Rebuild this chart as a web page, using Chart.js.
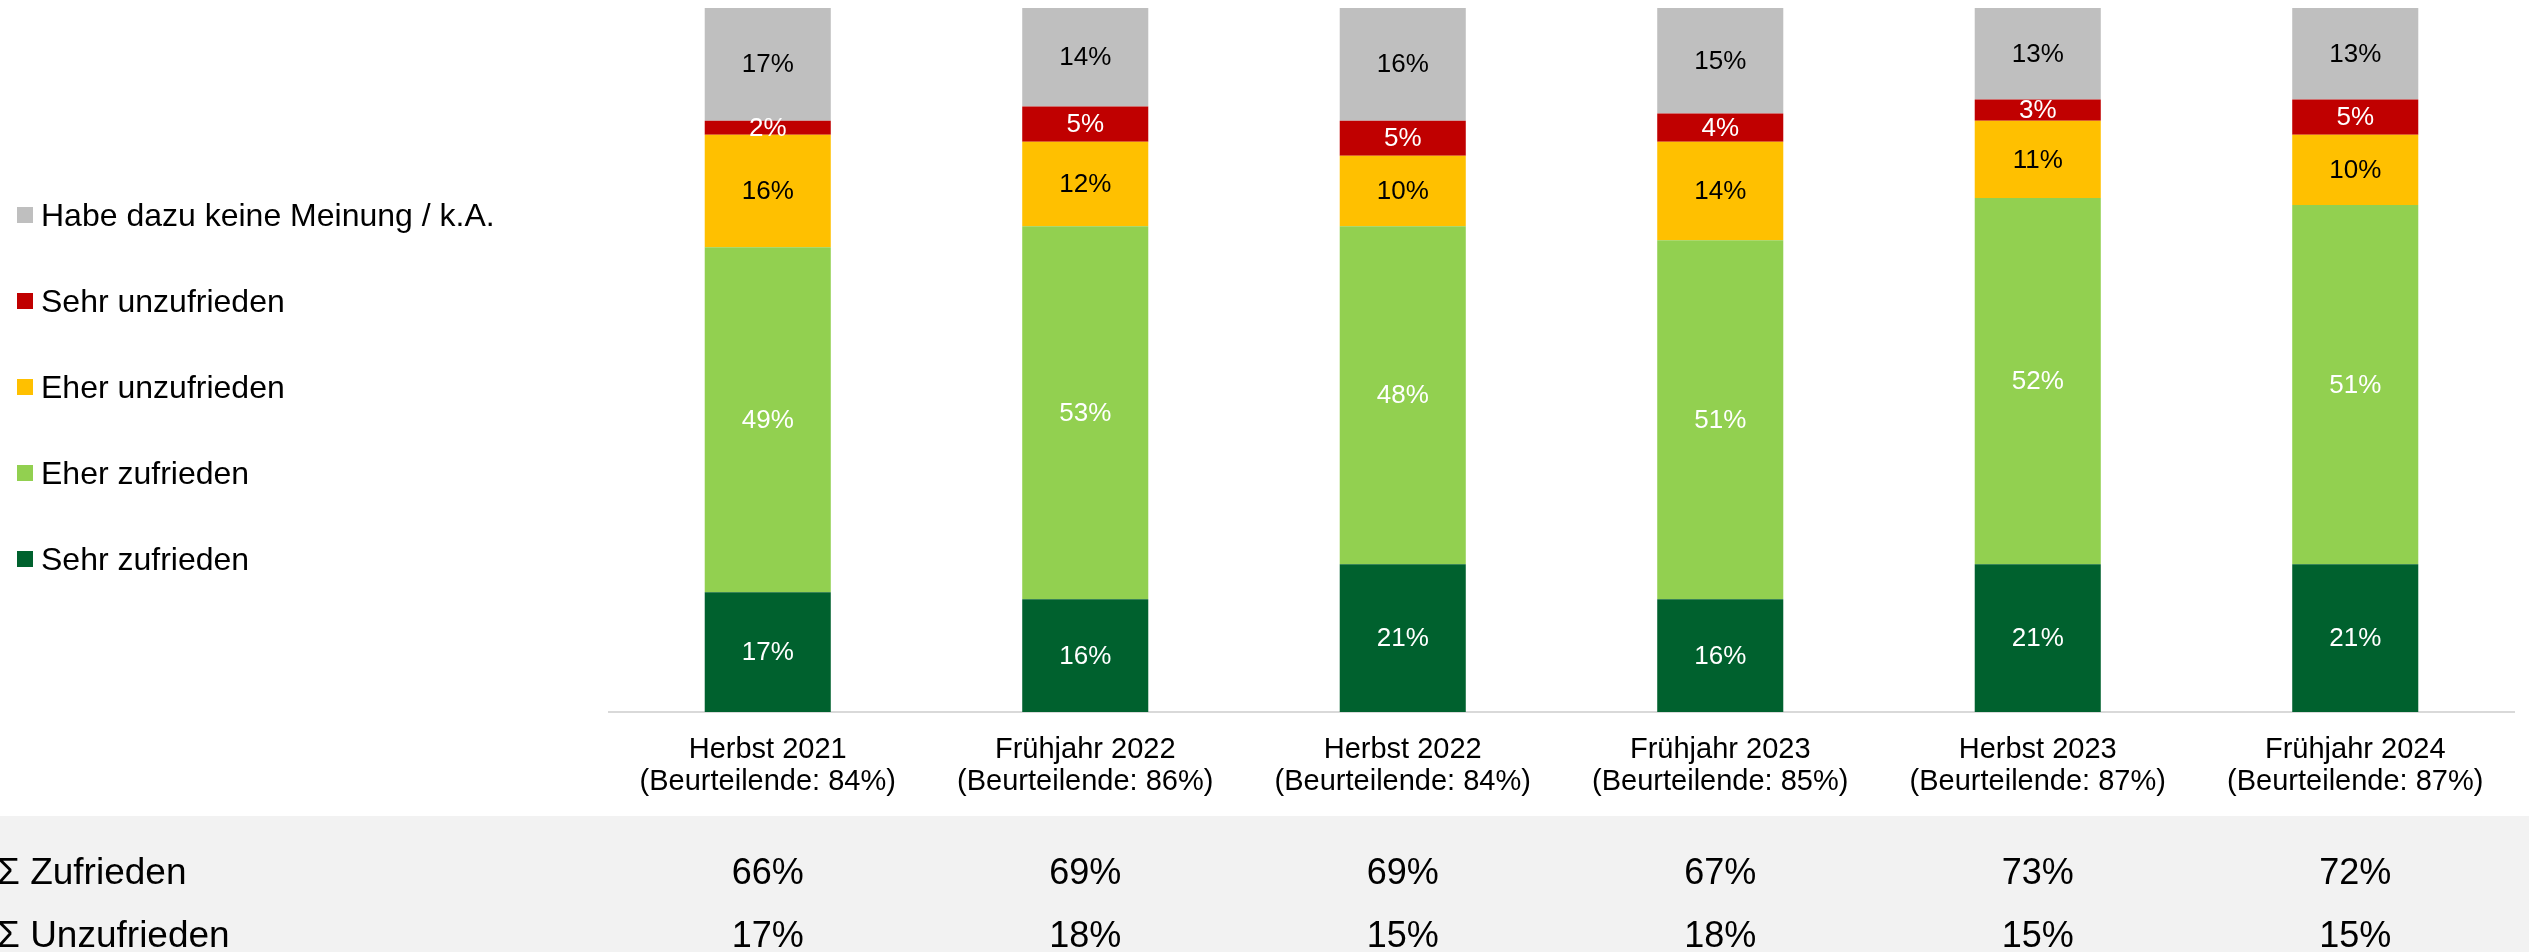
<!DOCTYPE html>
<html>
<head>
<meta charset="utf-8">
<script src="https://cdn.jsdelivr.net/npm/chart.js@4.4.1/dist/chart.umd.min.js"></script>
<style>
  html, body { margin:0; padding:0; background:#fff; }
  #wrap { position:relative; width:2529px; height:952px; overflow:hidden; font-family:"Liberation Sans", Arial, sans-serif; color:#000; }
  #chartBox { position:absolute; left:0; top:0; width:2529px; height:952px; }
  #tableBg { position:absolute; left:0; top:816px; width:2529px; height:136px; background:#F2F2F2; }
  .legend-item { position:absolute; left:17px; height:40px; display:flex; align-items:center; font-size:32px; white-space:nowrap; }
  .legend-item .sw { width:16px; height:16px; margin-right:8px; flex:none; }
  .row-label { position:absolute; left:-3px; font-size:37px; line-height:40px; white-space:nowrap; }
  .cell { position:absolute; font-size:36px; line-height:40px; transform:translateX(-50%); white-space:nowrap; }
</style>
</head>
<body>
<div id="wrap">
  <div id="tableBg"></div>
  <div id="chartBox"><canvas id="c"></canvas></div>
  <div id="legend"></div>
  <div id="table"></div>
</div>
<script>
// ---- data ----
const periods = ['Herbst 2021', 'Frühjahr 2022', 'Herbst 2022', 'Frühjahr 2023', 'Herbst 2023', 'Frühjahr 2024'];
const beurteilende = ['84%', '86%', '84%', '85%', '87%', '87%'];

const sehrZufrieden   = [17, 16, 21, 16, 21, 21];
const eherZufrieden   = [49, 53, 48, 51, 52, 51];
const eherUnzufrieden = [16, 12, 10, 14, 11, 10];
const sehrUnzufrieden = [2, 5, 5, 4, 3, 5];
const keineMeinung    = [17, 14, 16, 15, 13, 13];

const sumZufrieden   = ['66%', '69%', '69%', '67%', '73%', '72%'];
const sumUnzufrieden = ['17%', '18%', '15%', '18%', '15%', '15%'];

const seriesNames = ['Sehr zufrieden', 'Eher zufrieden', 'Eher unzufrieden', 'Sehr unzufrieden', 'Habe dazu keine Meinung / k.A.'];
const seriesColors = ['#00612E', '#92D050', '#FFC000', '#C00000', '#BFBFBF'];
const labelColors  = ['#FFFFFF', '#FFFFFF', '#000000', '#FFFFFF', '#000000'];
const seriesData = [sehrZufrieden, eherZufrieden, eherUnzufrieden, sehrUnzufrieden, keineMeinung];

const FONT = '"Liberation Sans", Arial, sans-serif';

// ---- legend (HTML) ----
const legend = document.getElementById('legend');
const legendCenters = [215, 301, 387, 473, 559];
const legendOrder = [4, 3, 2, 1, 0];
legendOrder.forEach((si, k) => {
  const d = document.createElement('div');
  d.className = 'legend-item';
  d.style.top = (legendCenters[k] - 20) + 'px';
  d.innerHTML = '<span class="sw" style="background:' + seriesColors[si] + '"></span><span>' + seriesNames[si] + '</span>';
  legend.appendChild(d);
});

// ---- bar value labels plugin ----
const valueLabels = {
  id: 'valueLabels',
  afterDatasetsDraw(chart) {
    const ctx = chart.ctx;
    const area = chart.chartArea;
    ctx.save();
    ctx.font = '26px ' + FONT;
    ctx.textAlign = 'center';
    ctx.textBaseline = 'middle';
    chart.data.datasets.forEach((ds, di) => {
      const meta = chart.getDatasetMeta(di);
      meta.data.forEach((el, i) => {
        const p = el.getProps(['x', 'y', 'base'], true);
        const top = Math.max(Math.min(p.y, p.base), area.top);
        const bot = Math.max(p.y, p.base);
        ctx.fillStyle = labelColors[di];
        ctx.fillText(Math.round(ds.data[i]) + '%', p.x, (top + bot) / 2 + 1);
      });
    });
    ctx.restore();
  }
};

// ---- table positioned on x scale ----
const tablePlugin = {
  id: 'tablePlugin',
  afterRender(chart) {
    const tbl = document.getElementById('table');
    if (tbl.dataset.done) return;
    tbl.dataset.done = '1';
    const rows = [['Σ Zufrieden', sumZufrieden, 872], ['Σ Unzufrieden', sumUnzufrieden, 935]];
    rows.forEach(([lab, vals, cy]) => {
      const l = document.createElement('div');
      l.className = 'row-label';
      l.style.top = (cy - 20) + 'px';
      l.textContent = lab;
      tbl.appendChild(l);
      vals.forEach((v, i) => {
        const c = document.createElement('div');
        c.className = 'cell';
        c.style.left = chart.scales.x.getPixelForValue(i) + 'px';
        c.style.top = (cy - 20) + 'px';
        c.textContent = v;
        tbl.appendChild(c);
      });
    });
  }
};

new Chart(document.getElementById('c'), {
  type: 'bar',
  data: {
    labels: periods.map((p, i) => [p, '(Beurteilende: ' + beurteilende[i] + ')']),
    datasets: seriesData.map((d, i) => ({
      label: seriesNames[i],
      data: d,
      backgroundColor: seriesColors[i],
      borderWidth: 0,
      categoryPercentage: 1,
      barPercentage: 0.397,
      clip: { left: false, right: false, top: 0, bottom: false }
    }))
  },
  options: {
    responsive: true,
    maintainAspectRatio: false,
    animation: false,
    events: [],
    layout: { padding: { left: 609, right: 15, top: 8, bottom: 152 } },
    plugins: { legend: { display: false }, tooltip: { enabled: false } },
    scales: {
      x: {
        stacked: true,
        grid: { display: false, drawTicks: false },
        border: { display: true, color: '#D9D9D9', width: 2 },
        ticks: {
          padding: 22,
          color: '#000',
          autoSkip: false,
          maxRotation: 0,
          font: { family: FONT, size: 29, lineHeight: 32 / 29 }
        },
        afterFit(scale) { scale.height = 88; }
      },
      y: {
        stacked: true,
        display: false,
        min: 0,
        max: 100
      }
    }
  },
  plugins: [valueLabels, tablePlugin]
});
</script>
</body>
</html>
